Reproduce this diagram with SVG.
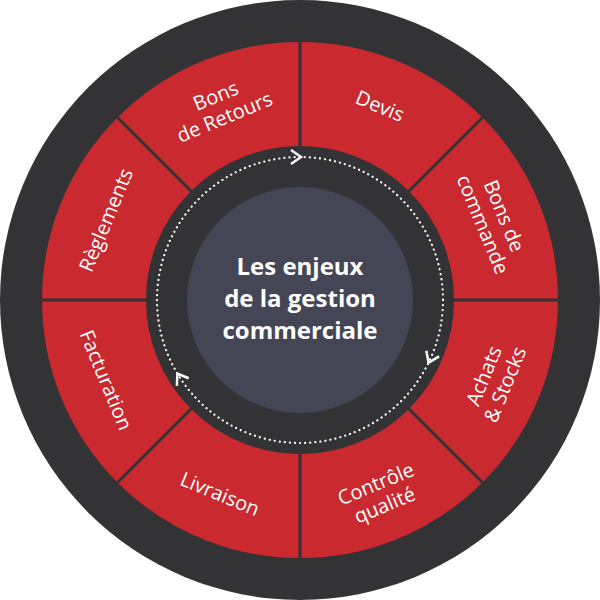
<svg xmlns="http://www.w3.org/2000/svg" width="600" height="600" viewBox="0 0 600 600">
<style>
.lbl{font-family:"Open Sans","Liberation Sans",sans-serif;font-size:20px;fill:#fff;text-anchor:middle}
.ctr{font-family:"Open Sans","Liberation Sans",sans-serif;font-size:24px;font-weight:bold;fill:#fff;text-anchor:middle}
.div{stroke:#333336;stroke-width:3}
.chev{fill:none;stroke:#fff;stroke-width:2.5}
</style>
<circle cx="300" cy="300" r="300" fill="#333336"/>
<g id="ring">
<circle cx="300" cy="300" r="206" fill="none" stroke="#c9292f" stroke-width="104"/>
</g>
<g id="connectors">
<g class="div">
<line x1="300" y1="40" x2="300" y2="150"/>
<line x1="300" y1="450" x2="300" y2="560"/>
<line x1="40" y1="300" x2="150" y2="300"/>
<line x1="450" y1="300" x2="560" y2="300"/>
<line x1="116" y1="116" x2="194" y2="194"/>
<line x1="484" y1="484" x2="406" y2="406"/>
<line x1="484" y1="116" x2="406" y2="194"/>
<line x1="116" y1="484" x2="194" y2="406"/>
</g>
<circle cx="300" cy="300" r="143" fill="none" stroke="#fff" stroke-width="2.2" stroke-dasharray="0.1 5" stroke-linecap="round"/>
<path class="chev" d="M-5,-7 L5,0 L-5,7" transform="rotate(0 300 300) translate(296,157)"/>
<path class="chev" d="M-5,-7 L5,0 L-5,7" transform="rotate(114 300 300) translate(300,157)"/>
<path class="chev" d="M-5,-7 L5,0 L-5,7" transform="rotate(237 300 300) translate(300,157)"/>
</g>
<g id="center">
<circle cx="300" cy="300" r="113" fill="#454655"/>
<text class="ctr" x="300" y="275">Les enjeux</text>
<text class="ctr" x="300" y="307">de la gestion</text>
<text class="ctr" x="300" y="339">commerciale</text>
</g>
<g id="devis"><text class="lbl" transform="translate(380,106) rotate(22.5)" y="7">Devis</text></g>
<g id="bons-commande"><text class="lbl" transform="translate(494,220) rotate(67.5)"><tspan x="0" y="-4">Bons de</tspan><tspan x="0" y="19">commande</tspan></text></g>
<g id="achats"><text class="lbl" transform="translate(494,380) rotate(-67.5)"><tspan x="0" y="-4">Achats</tspan><tspan x="0" y="19">&amp; Stocks</tspan></text></g>
<g id="controle"><text class="lbl" transform="translate(380,494) rotate(-22.5)"><tspan x="0" y="-4">Contrôle</tspan><tspan x="0" y="19">qualité</tspan></text></g>
<g id="livraison"><text class="lbl" transform="translate(220,494) rotate(22.5)" y="7">Livraison</text></g>
<g id="facturation"><text class="lbl" transform="translate(106,380) rotate(67.5)" y="7">Facturation</text></g>
<g id="reglements"><text class="lbl" transform="translate(106,220) rotate(-67.5)" y="7">Règlements</text></g>
<g id="bons-retours"><text class="lbl" transform="translate(220,106) rotate(-22.5)"><tspan x="0" y="-4">Bons</tspan><tspan x="0" y="19">de Retours</tspan></text></g>
</svg>
